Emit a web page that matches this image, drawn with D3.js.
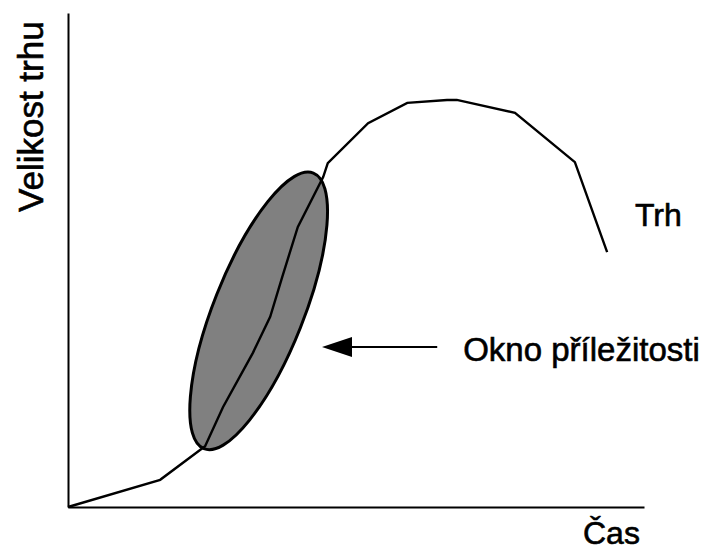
<!DOCTYPE html>
<html>
<head>
<meta charset="utf-8">
<script src="https://cdn.jsdelivr.net/npm/d3@7"></script>
<style>
    body { margin: 0; background: #fff; }
    svg { display: block; }
    .label { font-family: "Liberation Sans", Arial, sans-serif; fill: #000; stroke: #000; stroke-width: 0.6; }
    .axis path { stroke: #000; stroke-width: 2; }
</style>
</head>
<body>
<div id="chart"></div>
<script>
// market curve (time 0-100, size 0-100)
const timeVals = [0, 16.0, 23.8, 26.9, 32.1, 35.1, 37.2, 39.9, 44.3, 45.1, 52.1, 58.9, 65.8, 67.5, 77.6, 88.0, 93.6];
const sizeVals = [0, 5.5, 12.3, 20.2, 31.2, 38.5, 46.6, 56.7, 66.8, 69.6, 77.7, 81.8, 82.4, 82.4, 79.8, 69.8, 51.6];

// window of opportunity: ends of the ellipse along the curve
const windowTime = [23.6, 42.6];
const windowSize = [11.8, 67.6];

// arrow pointing at the window
const arrowTime = [44.1, 64.1];
const arrowSize = 32.4;

// texts
const axisTitles = {x: 'Čas', y: 'Velikost trhu'};
const seriesLabel = 'Trh';
const windowLabel = 'Okno příležitosti';

// setup
const width = 711;
const height = 552;
const margin = {t: 13, r: 67, b: 45, l: 68};

const svg = d3.select('#chart')
    .append('svg')
    .attr('width', width)
    .attr('height', height);

// scales
const scaleX = d3.scaleLinear()
    .domain([0, 100])
    .range([margin.l, width - margin.r]);
const scaleY = d3.scaleLinear()
    .domain([0, 100])
    .range([height - margin.b, margin.t]);

// axes, no ticks
svg.append('g')
    .attr('class', 'axis')
    .attr('transform', `translate(0,${scaleY(0)})`)
    .call(d3.axisBottom(scaleX).tickValues([]).tickSizeOuter(0));
svg.append('g')
    .attr('class', 'axis')
    .attr('transform', `translate(${scaleX(0)},0)`)
    .call(d3.axisLeft(scaleY).tickValues([]).tickSizeOuter(0));

// ellipse (window)
const p0 = [scaleX(windowTime[0]), scaleY(windowSize[0])];
const p1 = [scaleX(windowTime[1]), scaleY(windowSize[1])];
const cx = (p0[0] + p1[0]) / 2;
const cy = (p0[1] + p1[1]) / 2;
const rx = Math.hypot(p1[0] - p0[0], p1[1] - p0[1]) / 2;
const angle = Math.atan2(p1[1] - p0[1], p1[0] - p0[0]) * 180 / Math.PI;
svg.append('ellipse')
    .attr('cx', cx)
    .attr('cy', cy)
    .attr('rx', rx)
    .attr('ry', 45)
    .attr('transform', `rotate(${angle},${cx},${cy})`)
    .style('fill', '#808080')
    .style('stroke', '#000')
    .style('stroke-width', 3);

// market line
const line = d3.line()
    .x(d => scaleX(d[0]))
    .y(d => scaleY(d[1]));
svg.append('path')
    .datum(d3.zip(timeVals, sizeVals))
    .attr('d', line)
    .style('fill', 'none')
    .style('stroke', '#000')
    .style('stroke-width', 2.4);

// arrow
const ay = scaleY(arrowSize);
const tip = scaleX(arrowTime[0]);
svg.append('line')
    .attr('x1', tip + 28)
    .attr('x2', scaleX(arrowTime[1]))
    .attr('y1', ay)
    .attr('y2', ay)
    .style('stroke', '#000')
    .style('stroke-width', 2);
svg.append('path')
    .attr('d', `M${tip},${ay}L${tip + 30},${ay - 10}L${tip + 30},${ay + 10}Z`)
    .style('fill', '#000');

// labels
svg.append('text')
    .attr('class', 'label')
    .attr('x', 635)
    .attr('y', 226)
    .style('font-size', '32px')
    .text(seriesLabel);

svg.append('text')
    .attr('class', 'label')
    .attr('x', scaleX(arrowTime[1]) + 26)
    .attr('y', 361)
    .style('font-size', '33px')
    .text(windowLabel);

svg.append('text')
    .attr('class', 'label')
    .attr('x', 583)
    .attr('y', 544)
    .style('font-size', '32px')
    .text(axisTitles.x);

svg.append('text')
    .attr('class', 'label')
    .attr('transform', 'translate(43,212) rotate(-90)')
    .style('font-size', '35px')
    .text(axisTitles.y);
</script>
</body>
</html>
